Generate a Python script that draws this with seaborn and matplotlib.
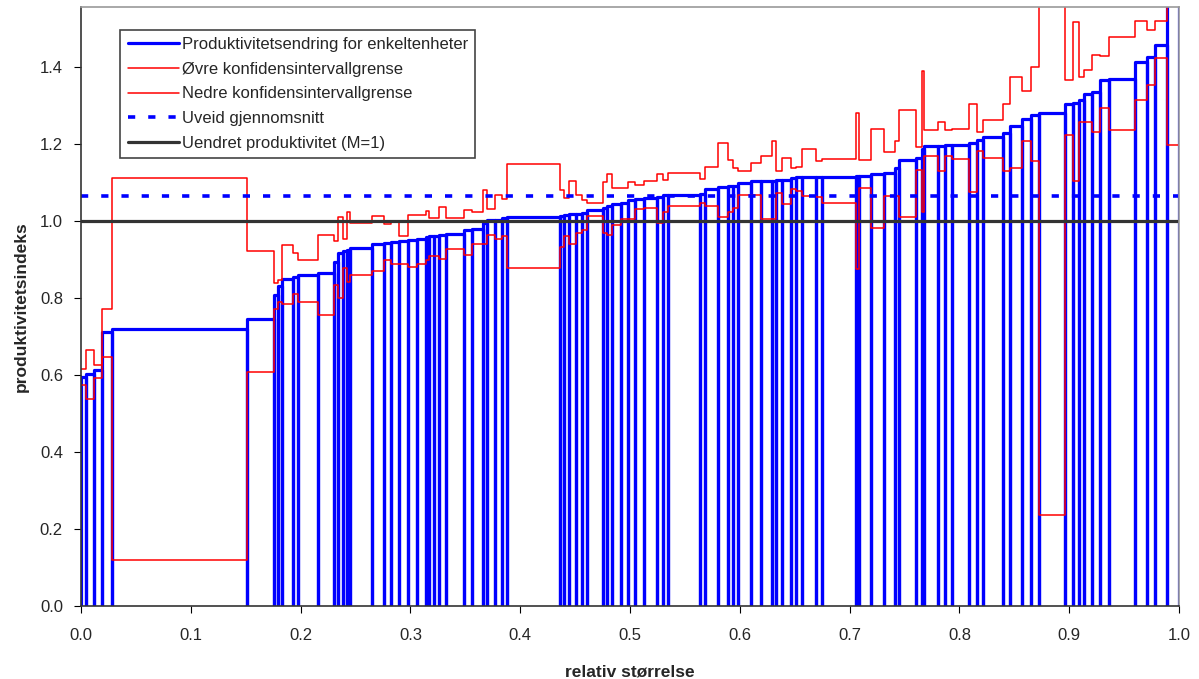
import numpy as np
import pandas as pd
import matplotlib.pyplot as plt
import seaborn as sns

# cumulative relative size (unit borders)
x_edges = [0.0, 0.0043, 0.0121, 0.0189, 0.0285, 0.1515, 0.1760, 0.1797, 0.1833, 0.1928,
           0.1974, 0.2161, 0.2304, 0.2343, 0.2383, 0.2420, 0.2453, 0.2653, 0.2762, 0.2821,
           0.2899, 0.2975, 0.3060, 0.3139, 0.3172, 0.3215, 0.3263, 0.3322, 0.3485, 0.3564,
           0.3664, 0.3695, 0.3770, 0.3831, 0.3877, 0.4362, 0.4402, 0.4444, 0.4508, 0.4560,
           0.4606, 0.4751, 0.4788, 0.4839, 0.4915, 0.4985, 0.5046, 0.5130, 0.5243, 0.5303,
           0.5349, 0.5638, 0.5683, 0.5804, 0.5895, 0.5941, 0.5986, 0.6102, 0.6193, 0.6291,
           0.6330, 0.6387, 0.6463, 0.6509, 0.6564, 0.6691, 0.6751, 0.7058, 0.7086, 0.7192,
           0.7316, 0.7413, 0.7447, 0.7602, 0.7657, 0.7678, 0.7808, 0.7869, 0.7930, 0.8090,
           0.8160, 0.8218, 0.8394, 0.8461, 0.8567, 0.8649, 0.8728, 0.8962, 0.9037, 0.9089,
           0.9137, 0.9205, 0.9281, 0.9365, 0.9599, 0.9711, 0.9781, 0.9888, 1.0]

produktivitet = [0.595, 0.603, 0.612, 0.711, 0.718, 0.746, 0.806, 0.830, 0.848, 0.854,
                 0.858, 0.863, 0.893, 0.915, 0.920, 0.925, 0.928, 0.939, 0.942, 0.944,
                 0.947, 0.949, 0.953, 0.957, 0.959, 0.960, 0.962, 0.966, 0.977, 0.978,
                 0.994, 1.001, 1.003, 1.008, 1.010, 1.012, 1.014, 1.016, 1.018, 1.020,
                 1.027, 1.034, 1.037, 1.042, 1.046, 1.053, 1.055, 1.058, 1.061, 1.066,
                 1.067, 1.070, 1.081, 1.087, 1.090, 1.091, 1.097, 1.102, 1.103, 1.104,
                 1.105, 1.106, 1.111, 1.112, 1.112, 1.112, 1.112, 1.117, 1.117, 1.120,
                 1.124, 1.137, 1.158, 1.163, 1.187, 1.193, 1.195, 1.197, 1.197, 1.201,
                 1.210, 1.217, 1.228, 1.245, 1.264, 1.273, 1.279, 1.302, 1.305, 1.314,
                 1.329, 1.333, 1.366, 1.368, 1.411, 1.424, 1.456, 1.650]

ovre = [0.616, 0.664, 0.625, 0.770, 1.110, 0.922, 0.838, 0.845, 0.938, 0.915,
        0.899, 0.964, 0.947, 1.009, 0.953, 1.022, 0.994, 1.011, 0.992, 1.000,
        0.959, 1.014, 1.014, 1.024, 1.008, 1.008, 1.035, 1.008, 1.027, 1.022,
        1.079, 1.029, 1.066, 1.057, 1.146, 1.079, 1.060, 1.103, 1.066, 1.054,
        1.046, 1.100, 1.122, 1.086, 1.086, 1.100, 1.093, 1.102, 1.122, 1.106,
        1.124, 1.107, 1.139, 1.201, 1.158, 1.136, 1.130, 1.149, 1.167, 1.206,
        1.128, 1.163, 1.136, 1.139, 1.186, 1.155, 1.159, 1.280, 1.158, 1.238,
        1.178, 1.206, 1.288, 1.191, 1.388, 1.234, 1.255, 1.234, 1.237, 1.302,
        1.230, 1.260, 1.303, 1.374, 1.336, 1.400, 1.700, 1.364, 1.515, 1.372,
        1.392, 1.431, 1.428, 1.476, 1.518, 1.496, 1.518, 1.700]

nedre = [0.573, 0.538, 0.592, 0.646, 0.119, 0.606, 0.770, 0.790, 0.785, 0.810,
         0.790, 0.755, 0.832, 0.800, 0.876, 0.841, 0.858, 0.869, 0.897, 0.888,
         0.888, 0.880, 0.888, 0.897, 0.907, 0.907, 0.901, 0.927, 0.910, 0.939,
         0.939, 0.962, 0.953, 0.959, 0.877, 0.932, 0.959, 0.939, 0.968, 0.975,
         1.011, 0.968, 0.964, 0.990, 1.005, 1.005, 1.029, 1.034, 0.994, 1.022,
         1.037, 1.046, 1.037, 1.009, 1.022, 1.034, 1.067, 1.067, 1.005, 1.005,
         1.072, 1.042, 1.083, 1.077, 1.063, 1.061, 1.046, 0.875, 1.085, 0.981,
         1.063, 1.063, 1.009, 1.132, 1.022, 1.167, 1.130, 1.169, 1.161, 1.074,
         1.180, 1.163, 1.128, 1.136, 1.208, 1.156, 0.236, 1.223, 1.104, 1.257,
         1.257, 1.230, 1.292, 1.234, 1.312, 1.351, 1.422, 1.197]

gjennomsnitt = 1.063
uendret = 1.0

labels = ['Produktivitetsendring for enkeltenheter', 'Øvre konfidensintervallgrense',
          'Nedre konfidensintervallgrense', 'Uveid gjennomsnitt', 'Uendret produktivitet (M=1)']


def salter_path(edges, heights):
    xs, ys = [], []
    for x0, x1, h in zip(edges[:-1], edges[1:], heights):
        xs += [x0, x0, x1, x1]
        ys += [0, h, h, 0]
    return pd.DataFrame({'x': xs, 'y': ys})


def step_path(edges, values):
    xs, ys = [], []
    for x0, x1, v in zip(edges[:-1], edges[1:], values):
        xs += [x0, x1]
        ys += [v, v]
    return pd.DataFrame({'x': xs, 'y': ys})


sns.set_style('ticks')
plt.rcParams['font.family'] = ['Liberation Sans', 'DejaVu Sans']

fig, ax = plt.subplots(figsize=(11.99, 6.79), dpi=100)
fig.subplots_adjust(left=0.0676, right=0.9833, bottom=0.1075, top=0.990)

blue = salter_path(x_edges, produktivitet)
sns.lineplot(data=blue, x='x', y='y', sort=False, estimator=None, color='#0000ff',
             linewidth=2.3, ax=ax, label=labels[0])
up = step_path(x_edges, ovre)
sns.lineplot(data=up, x='x', y='y', sort=False, estimator=None, color='#ff0000',
             linewidth=1.1, ax=ax, label=labels[1])
lo = step_path(x_edges, nedre)
sns.lineplot(data=lo, x='x', y='y', sort=False, estimator=None, color='#ff0000',
             linewidth=1.1, ax=ax, label=labels[2])
ax.axhline(gjennomsnitt, color='#0000ff', linewidth=2.6, linestyle=(0, (2, 3.6)),
           label=labels[3])
ax.axhline(uendret, color='#333333', linewidth=2.3, label=labels[4])

ax.set_xlim(0, 1.0)
ax.set_ylim(0, 1.555)
ax.set_xticks(np.arange(0, 1.01, 0.1))
ax.set_yticks(np.arange(0, 1.41, 0.2))
ax.xaxis.set_major_formatter(plt.FormatStrFormatter('%.1f'))
ax.yaxis.set_major_formatter(plt.FormatStrFormatter('%.1f'))
ax.tick_params(labelsize=12, length=5, color='black', pad=8)
ax.tick_params(axis='x', pad=11)
ax.set_xlabel('relativ størrelse', fontsize=12.5, fontweight='bold', labelpad=15)
ax.set_ylabel('produktivitetsindeks', fontsize=12.5, fontweight='bold', labelpad=8)

for side in ['left', 'bottom']:
    ax.spines[side].set_color('#333333')
    ax.spines[side].set_linewidth(1.2)
for side in ['top', 'right']:
    ax.spines[side].set_visible(True)
    ax.spines[side].set_color('#999999')
    ax.spines[side].set_linewidth(1.2)

leg = ax.legend(loc='upper left', bbox_to_anchor=(0.0355, 0.962), frameon=True,
                fancybox=False, edgecolor='#444444', framealpha=1, fontsize=12,
                borderpad=0.45, labelspacing=0.58, handlelength=3.1, handletextpad=0.15,
                borderaxespad=0)
leg.get_frame().set_linewidth(1.2)

plt.savefig('out.png', dpi=100)
